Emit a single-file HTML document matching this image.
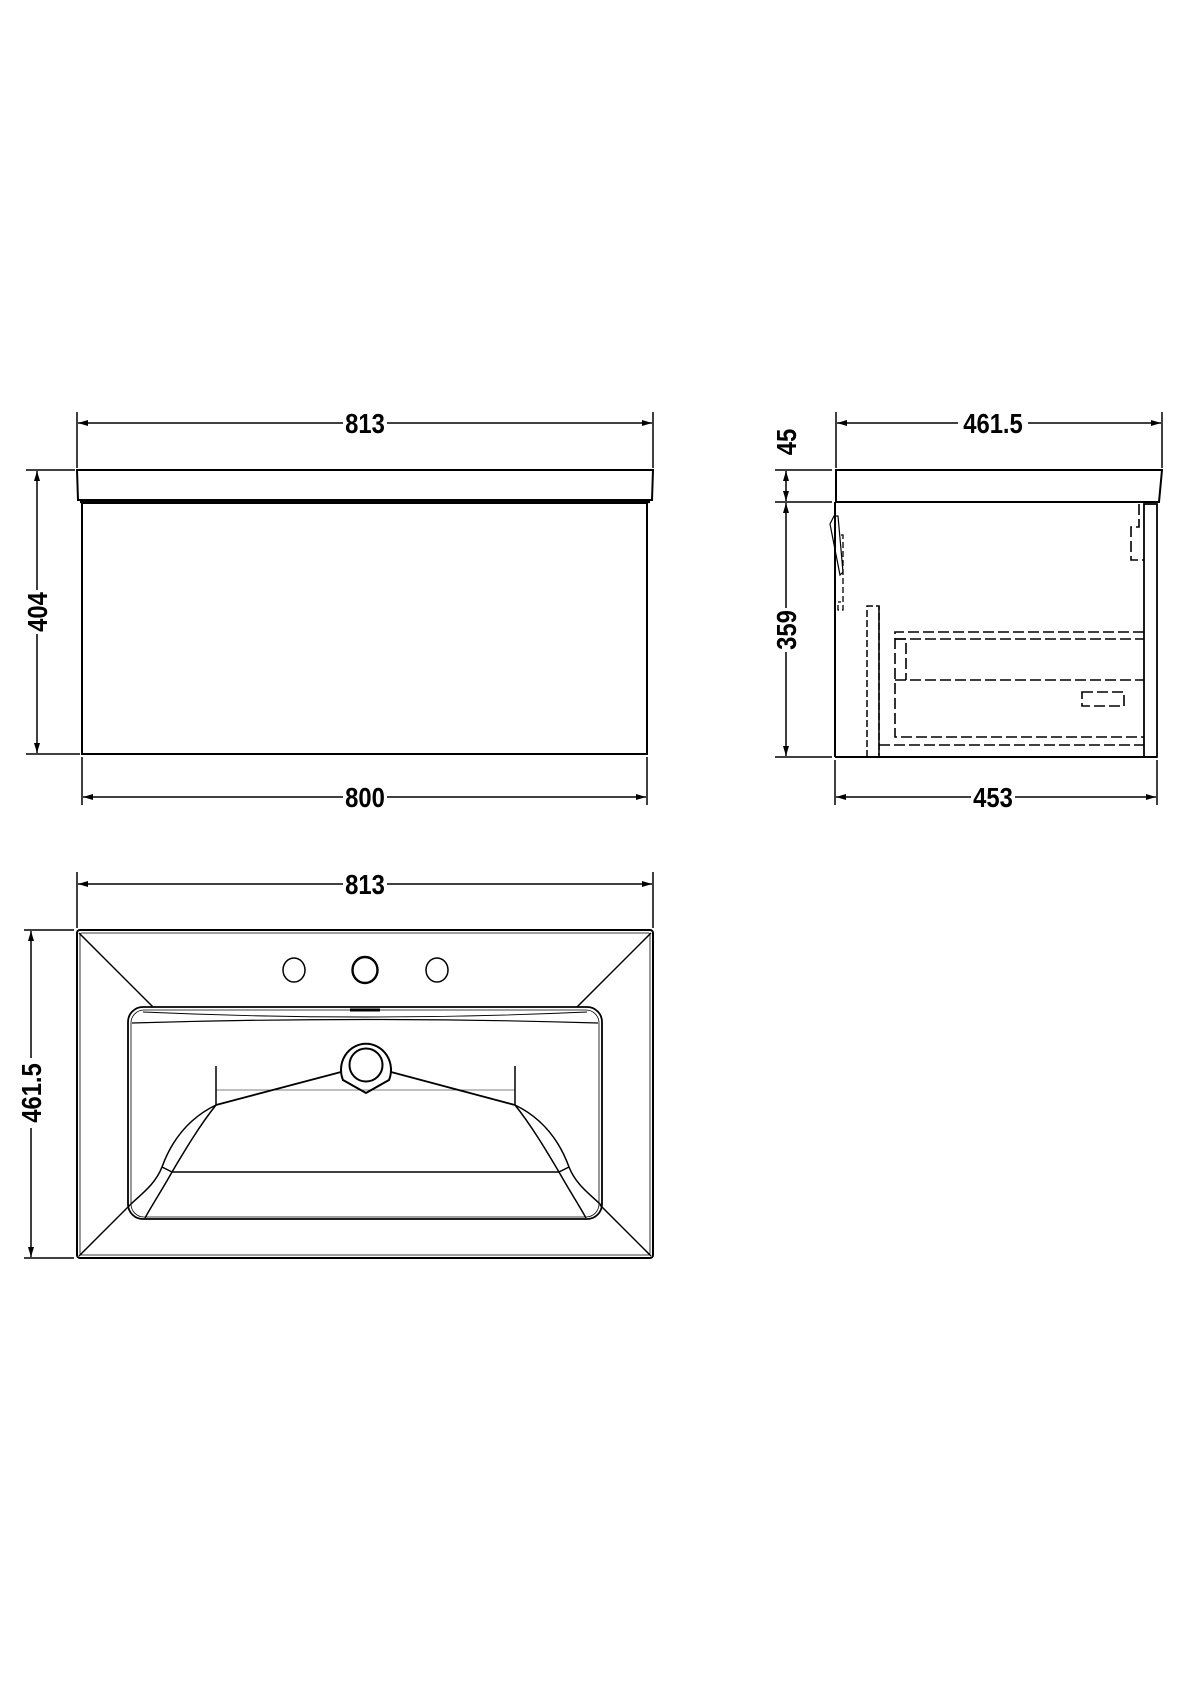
<!DOCTYPE html>
<html><head><meta charset="utf-8"><style>
html,body{margin:0;padding:0;background:#fff}
svg{display:block}
text{font-family:"Liberation Sans",sans-serif;font-weight:bold;font-size:28px;fill:#000}
</style></head><body>
<svg width="1190" height="1684" viewBox="0 0 1190 1684" xmlns="http://www.w3.org/2000/svg">
<defs>
<marker id="a" viewBox="0 0 10 6" refX="10" refY="3" markerWidth="10" markerHeight="6" orient="auto-start-reverse" markerUnits="userSpaceOnUse"><path d="M0,0 L10,3 L0,6 z" fill="#000"/></marker>
</defs>
<g stroke="#000" fill="none" stroke-width="1.5">
<!-- FRONT VIEW -->
<line x1="77" y1="412" x2="77" y2="468"/><line x1="653" y1="412" x2="653" y2="468"/>
<line x1="78" y1="423" x2="652" y2="423" marker-start="url(#a)" marker-end="url(#a)"/>
<path d="M77,470 L653,470 L652,500 L78,500 Z" stroke-width="2"/>
<line x1="80" y1="502" x2="650" y2="502" stroke-width="2.2"/>
<rect x="82" y="503" width="565" height="251" stroke-width="2"/>
<line x1="26" y1="470" x2="75" y2="470"/><line x1="26" y1="754" x2="80" y2="754"/>
<line x1="37" y1="471" x2="37" y2="753" marker-start="url(#a)" marker-end="url(#a)"/>
<line x1="82" y1="757" x2="82" y2="805"/><line x1="647" y1="757" x2="647" y2="805"/>
<line x1="83" y1="797" x2="646" y2="797" marker-start="url(#a)" marker-end="url(#a)"/>

<!-- SIDE VIEW -->
<line x1="836" y1="412" x2="836" y2="468"/><line x1="1162" y1="412" x2="1162" y2="468"/>
<line x1="837" y1="423" x2="1161" y2="423" marker-start="url(#a)" marker-end="url(#a)"/>
<path d="M836,470 L1162,470 L1159,502 L836,502 Z" stroke-width="2"/>
<line x1="835" y1="502" x2="835" y2="757" stroke-width="2"/>
<line x1="835" y1="757" x2="1157" y2="757" stroke-width="2"/>
<rect x="1144" y="504" width="13" height="253" stroke-width="1.8"/>
<line x1="775" y1="470" x2="832" y2="470"/><line x1="775" y1="502" x2="832" y2="502"/><line x1="775" y1="757" x2="832" y2="757"/>
<line x1="786" y1="471" x2="786" y2="501" marker-start="url(#a)" marker-end="url(#a)"/>
<line x1="786" y1="503" x2="786" y2="756" marker-start="url(#a)" marker-end="url(#a)"/>
<line x1="835" y1="760" x2="835" y2="805"/><line x1="1157" y1="760" x2="1157" y2="805"/>
<line x1="836" y1="797" x2="1156" y2="797" marker-start="url(#a)" marker-end="url(#a)"/>
<!-- hinge -->
<path d="M830,524 L834,516 L838,516 L843,572 L840,575 Z" stroke-width="1.2"/>
<path d="M841,535 L843,535 L843,610 L838,610 L838,602 L841,602" stroke-dasharray="6,3" stroke-width="1.3"/>
<!-- post -->
<path d="M867,757 L867,606 L879,606 L879,757" stroke-dasharray="7,3" stroke-width="1.5"/>
<line x1="879" y1="606" x2="879" y2="757" stroke-width="1.5"/>
<g stroke-dasharray="11,4" stroke-width="1.6">
<path d="M1144,632 L895,632 L895,737 L1144,737"/>
<line x1="895" y1="639" x2="1144" y2="639"/>
<line x1="895" y1="680" x2="1144" y2="680"/>
<line x1="879" y1="745" x2="1144" y2="745"/>
<path d="M895,639 L906,639 L906,680"/>
<rect x="1082" y="692" width="42" height="14"/>
<path d="M1139,504 L1139,527 L1131,527 L1131,560 L1144,560"/>
</g>

<!-- TOP VIEW -->
<line x1="77" y1="872" x2="77" y2="928"/><line x1="653" y1="872" x2="653" y2="928"/>
<line x1="78" y1="884" x2="652" y2="884" marker-start="url(#a)" marker-end="url(#a)"/>
<line x1="24" y1="930" x2="74" y2="930"/><line x1="24" y1="1258" x2="74" y2="1258"/>
<line x1="31" y1="931" x2="31" y2="1257" marker-start="url(#a)" marker-end="url(#a)"/>
<rect x="77" y="930" width="576" height="328" rx="3" stroke-width="2"/>
<rect x="80" y="933" width="570" height="322" rx="2" stroke-width="0.8"/>
<line x1="79" y1="933" x2="153" y2="1007"/><line x1="651" y1="933" x2="577" y2="1007"/>
<line x1="79" y1="1256" x2="130" y2="1205"/><line x1="651" y1="1256" x2="600" y2="1205"/>
<rect x="128" y="1007" width="474" height="212" rx="15" stroke-width="1.8"/>
<rect x="131" y="1010" width="468" height="207" rx="13" stroke-width="0.8"/>
<path d="M143,1012 Q365,1022 587,1012" stroke-width="0.9"/>
<path d="M132,1023 Q365,1016 598,1023" stroke-width="1.2"/>
<path d="M350,1010 L380,1010" stroke-width="3"/>
<ellipse cx="294" cy="970" rx="11" ry="12"/>
<ellipse cx="365" cy="970" rx="12.5" ry="13" stroke-width="2.4"/>
<ellipse cx="437" cy="970" rx="11" ry="12"/>
<path d="M343,1080 A25,26 0 1 1 389,1080 L366,1093 Z" stroke-width="2"/>
<circle cx="366" cy="1065" r="16.5" stroke-width="2"/>
<path d="M341,1072 L216,1105" stroke-width="1.8"/><path d="M391,1072 L515,1105" stroke-width="1.8"/>
<line x1="216" y1="1066" x2="216" y2="1105"/><line x1="515" y1="1066" x2="515" y2="1105"/>
<line x1="216" y1="1090" x2="515" y2="1090" stroke-width="0.6"/>
<path d="M216,1105 C185,1120 170,1145 162,1167 C155,1185 140,1195 130,1205"/>
<path d="M216,1105 C200,1125 185,1150 172,1172 C162,1190 152,1205 145,1218"/>
<path d="M515,1105 C546,1120 561,1145 569,1167 C576,1185 591,1195 601,1205"/>
<path d="M515,1105 C531,1125 546,1150 559,1172 C569,1190 579,1205 586,1218"/>
<line x1="162" y1="1167" x2="172" y2="1172"/><line x1="569" y1="1167" x2="559" y2="1172"/>
<line x1="172" y1="1172" x2="559" y2="1172"/>
</g>
<g>
<rect x="343" y="408" width="44" height="30" fill="#fff"/><text transform="translate(365,433) scale(0.85,1)" text-anchor="middle">813</text>
<rect x="343" y="782" width="44" height="30" fill="#fff"/><text transform="translate(365,807) scale(0.85,1)" text-anchor="middle">800</text>
<rect x="958" y="408" width="70" height="30" fill="#fff"/><text transform="translate(993,433) scale(0.85,1)" text-anchor="middle">461.5</text>
<rect x="971" y="782" width="44" height="30" fill="#fff"/><text transform="translate(993,807) scale(0.85,1)" text-anchor="middle">453</text>
<rect x="343" y="869" width="44" height="30" fill="#fff"/><text transform="translate(365,894) scale(0.85,1)" text-anchor="middle">813</text>
<g transform="translate(37,612) rotate(-90)"><rect x="-22" y="-14" width="44" height="28" fill="#fff"/><text transform="translate(0,10) scale(0.85,1)" text-anchor="middle">404</text></g>
<g transform="translate(786,442) rotate(-90)"><text transform="translate(0,10) scale(0.85,1)" text-anchor="middle">45</text></g>
<g transform="translate(786,630) rotate(-90)"><rect x="-22" y="-14" width="44" height="28" fill="#fff"/><text transform="translate(0,10) scale(0.85,1)" text-anchor="middle">359</text></g>
<g transform="translate(31,1093) rotate(-90)"><rect x="-35" y="-14" width="70" height="28" fill="#fff"/><text transform="translate(0,10) scale(0.85,1)" text-anchor="middle">461.5</text></g>
</g>
</svg>
</body></html>
